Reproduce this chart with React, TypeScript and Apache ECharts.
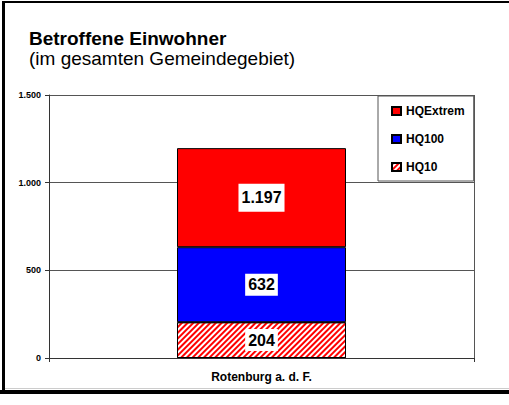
import React, { useEffect, useRef } from 'react';
import * as echarts from 'echarts';

const categories = ['Rotenburg a. d. F.'];
const legendNames = ['HQExtrem', 'HQ100', 'HQ10'];
const hqExtrem = [1197];
const hq100 = [632];
const hq10 = [204];
const yTickValues = [0, 500, 1000, 1500];

const FONT = '"Liberation Sans", Arial, Helvetica, sans-serif';

const fmt = (v: number) => String(v).replace(/\B(?=(\d{3})+(?!\d))/g, '.');

export default function App() {
  const ref = useRef<HTMLDivElement>(null);
  useEffect(() => {
    if (!ref.current) return;
    const chart = echarts.init(ref.current, undefined, { renderer: 'svg' });
    const seg100 = hq100.map((v, i) => v - hq10[i]);
    const segExt = hqExtrem.map((v, i) => v - hq100[i]);
    const labelBase = {
      show: true,
      position: 'inside',
      backgroundColor: '#fff',
      color: '#000',
      fontFamily: FONT,
      fontWeight: 'bold',
      fontSize: 16,
    };
    const option: any = {
      animation: false,
      backgroundColor: '#fff',
      textStyle: { fontFamily: FONT },
      title: {
        text: 'Betroffene Einwohner',
        subtext: '(im gesamten Gemeindegebiet)',
        left: 29,
        top: 29,
        padding: 0,
        itemGap: 1,
        textStyle: { fontFamily: FONT, fontSize: 19, fontWeight: 'bold', color: '#000' },
        subtextStyle: { fontFamily: FONT, fontSize: 19, color: '#000' },
      },
      legend: {
        orient: 'vertical',
        left: 378,
        top: 96,
        data: legendNames,
        icon: 'rect',
        backgroundColor: '#fff',
        borderColor: '#555',
        borderWidth: 1,
        padding: [9, 9, 8, 13],
        itemWidth: 9,
        itemHeight: 8,
        itemGap: 16,
        selectedMode: false,
        textStyle: { fontFamily: FONT, fontSize: 12, fontWeight: 'bold', color: '#000' },
      },
      grid: { left: 49, top: 95, width: 425, height: 263 },
      xAxis: {
        type: 'category',
        data: categories,
        axisLine: { lineStyle: { color: '#333' } },
        axisTick: { show: true, length: 4, lineStyle: { color: '#333' } },
        axisLabel: { fontFamily: FONT, fontSize: 12, fontWeight: 'bold', color: '#000', margin: 13 },
        splitLine: { show: true, lineStyle: { color: '#555' } },
      },
      yAxis: {
        type: 'value',
        min: yTickValues[0],
        max: yTickValues[yTickValues.length - 1],
        interval: yTickValues[1] - yTickValues[0],
        axisLine: { show: true, lineStyle: { color: '#333' } },
        axisTick: { show: true, length: 4, lineStyle: { color: '#333' } },
        axisLabel: {
          fontFamily: FONT,
          fontSize: 9,
          fontWeight: 'bold',
          color: '#000',
          margin: 8,
          formatter: (v: number) => fmt(v),
        },
        splitLine: { lineStyle: { color: '#555' } },
      },
      series: [
        {
          name: 'HQ10',
          type: 'bar',
          stack: 'total',
          barWidth: 169,
          data: hq10,
          itemStyle: {
            color: '#fff',
            borderColor: '#000',
            borderWidth: 1,
            decal: {
              symbol: 'rect',
              symbolSize: 1,
              color: '#ff0000',
              dashArrayX: [1, 0],
              dashArrayY: [1.6, 1.2],
              rotation: -Math.PI / 4,
            },
          },
          label: { ...labelBase, padding: [3, 3], formatter: (p: any) => fmt(hq10[p.dataIndex]) },
        },
        {
          name: 'HQ100',
          type: 'bar',
          stack: 'total',
          barWidth: 169,
          data: seg100,
          itemStyle: { color: '#0000ff', borderColor: '#000', borderWidth: 1 },
          label: { ...labelBase, padding: [3, 3], formatter: (p: any) => fmt(hq100[p.dataIndex]) },
        },
        {
          name: 'HQExtrem',
          type: 'bar',
          stack: 'total',
          barWidth: 169,
          data: segExt,
          itemStyle: { color: '#ff0000', borderColor: '#000', borderWidth: 1 },
          label: { ...labelBase, padding: [6, 3], formatter: (p: any) => fmt(hqExtrem[p.dataIndex]) },
        },
      ],
      graphic: [
        { type: 'rect', shape: { x: 3, y: 1, width: 506, height: 2 }, style: { fill: '#000' } },
        { type: 'rect', shape: { x: 2, y: 1, width: 3, height: 393 }, style: { fill: '#000' } },
        { type: 'rect', shape: { x: 5, y: 388, width: 504, height: 1 }, style: { fill: '#ccc' } },
        { type: 'rect', shape: { x: 0, y: 390, width: 509, height: 4 }, style: { fill: '#000' } },
      ],
    };
    chart.setOption(option);
    return () => chart.dispose();
  }, []);
  return (
    <div
      ref={ref}
      style={{ position: 'fixed', left: 0, top: 0, width: 509, height: 405 }}
    />
  );
}
